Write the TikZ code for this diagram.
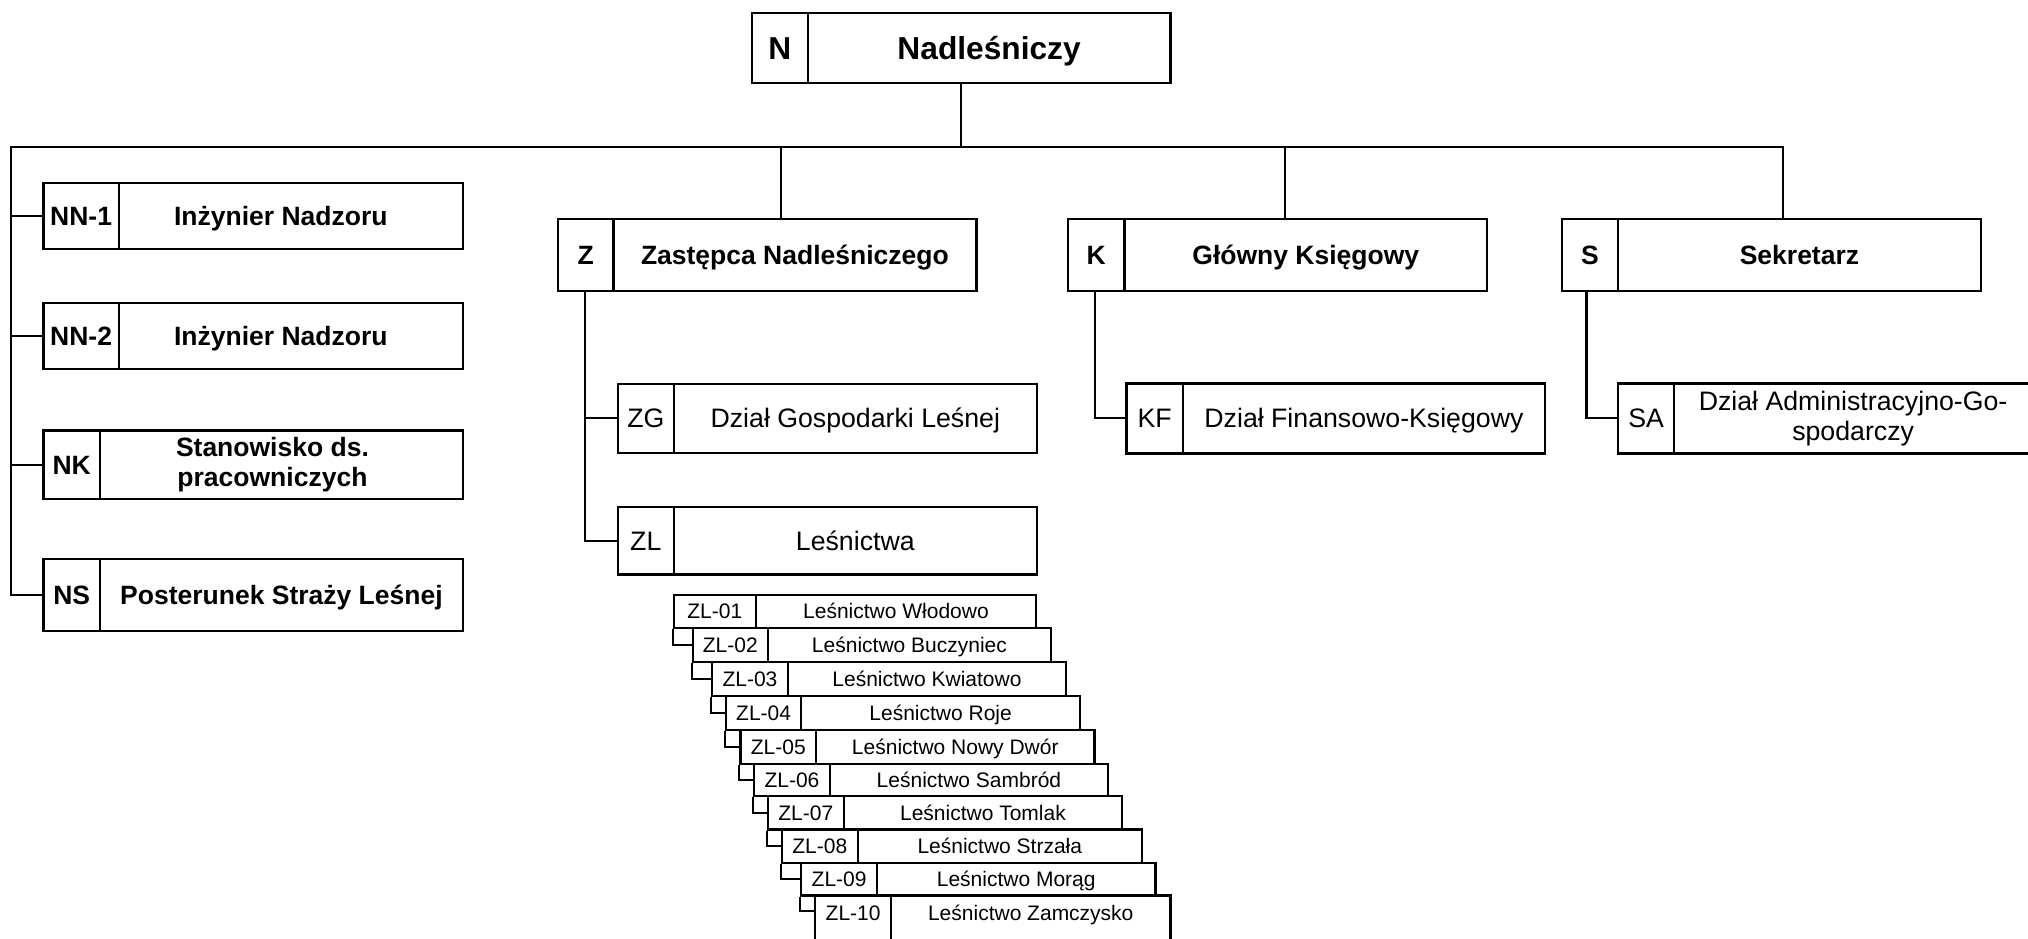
\documentclass[tikz,border=0pt]{standalone}
\usepackage{fontspec}
\setmainfont{Liberation Sans}
\usetikzlibrary{calc}
\tikzset{
  cell/.style={draw, line width=2.2pt, inner sep=0pt, anchor=north west},
  multi/.style={align=center, text height={}, text depth={}},
  big/.style={font=\fontsize{31.7}{36}\selectfont\bfseries, text height=22.7pt, text depth=0pt},
  bold/.style={font=\fontsize{26.5}{30}\selectfont\bfseries, text height=19pt, text depth=0pt},
  reg/.style={font=\fontsize{26.7}{30}\selectfont, text height=19.1pt, text depth=0pt},
  small/.style={font=\fontsize{21}{24}\selectfont, text height=15pt, text depth=0pt},
  conn/.style={line width=2.1pt},
}
% #1 id, #2 left, #3 divider, #4 right, #5 top, #6 bottom, #7 style, #8 code, #9 name
\newcommand\orgbox[9]{%
  \pgfmathsetmacro\obCW{#3-#2}%
  \pgfmathsetmacro\obNW{#4-#3}%
  \pgfmathsetmacro\obBH{#6-#5}%
  \node[cell,#7,minimum width=\obCW pt,minimum height=\obBH pt] (#1c) at (#2,#5) {#8};
  \node[cell,#7,minimum width=\obNW pt,minimum height=\obBH pt] (#1n) at (#3,#5) {#9};
}
\begin{document}
\begin{tikzpicture}[x=1pt,y=-1pt]
\useasboundingbox (0,0) rectangle (2028,939);
\clip (0,0) rectangle (2028,939);
\fill[white] (0,0) rectangle (2028,939);

% top
\orgbox{N}{750.7}{806.7}{1169.3}{11.7}{81.7}{big}{N}{Nadleśniczy}

% left column
\orgbox{NN1}{42.3}{117.7}{461.7}{181.5}{247.7}{bold}{NN-1}{\hspace*{-20pt}Inżynier Nadzoru}
\orgbox{NN2}{42.3}{117.7}{461.7}{301.7}{368}{bold}{NN-2}{\hspace*{-20pt}Inżynier Nadzoru}
\orgbox{NK}{42.3}{99}{461.7}{429.3}{497.7}{bold}{NK}{}
\node[bold,multi] (NKt) at ($(NKn.center)+(-9,0)$) {Stanowisko ds.\\pracowniczych};
\orgbox{NS}{42.3}{99}{461.7}{557.5}{629.5}{bold}{NS}{Posterunek Straży Leśnej}

% second level
\orgbox{Z}{556.7}{612.3}{975.3}{217.7}{290}{bold}{Z}{Zastępca Nadleśniczego}
\orgbox{K}{1066.7}{1123.3}{1486}{217.7}{290}{bold}{K}{Główny Księgowy}
\orgbox{S}{1560.7}{1617}{1979.7}{217.7}{290}{bold}{S}{Sekretarz}

% third level
\orgbox{ZG}{616.7}{672.7}{1035.7}{382.7}{451.7}{reg}{ZG}{Dział Gospodarki Leśnej}
\orgbox{ZL}{616.7}{672.7}{1035.7}{506}{573.3}{reg}{ZL}{Leśnictwa}
\orgbox{KF}{1125.3}{1181.7}{1544}{382.3}{452.3}{reg}{KF}{Dział Finansowo-Księgowy}
\orgbox{SA}{1617}{1673}{2031}{382.3}{452.3}{reg}{SA}{}
\node[reg,multi] (SAt) at (SAn.center) {Dział Administracyjno-Go-\\spodarczy};

% forest districts
\orgbox{ZLa}{672.7}{754.7}{1035}{594}{626.7}{small}{ZL-01}{Leśnictwo Włodowo}
\orgbox{ZLb}{691.7}{766.7}{1050}{626.7}{661}{small}{ZL-02}{Leśnictwo Buczyniec}
\orgbox{ZLc}{711}{786.7}{1065}{661}{695}{small}{ZL-03}{Leśnictwo Kwiatowo}
\orgbox{ZLd}{725}{800}{1079}{695}{729}{small}{ZL-04}{Leśnictwo Roje}
\orgbox{ZLe}{739.3}{815}{1093.3}{729}{762.7}{small}{ZL-05}{Leśnictwo Nowy Dwór}
\orgbox{ZLf}{752.7}{829}{1106.7}{762.7}{795}{small}{ZL-06}{Leśnictwo Sambród}
\orgbox{ZLg}{766.7}{842.7}{1121}{795}{828.3}{small}{ZL-07}{Leśnictwo Tomlak}
\orgbox{ZLh}{780.7}{856.7}{1140.7}{828.3}{861.7}{small}{ZL-08}{Leśnictwo Strzała}
\orgbox{ZLi}{800}{876}{1154.3}{861.7}{894.3}{small}{ZL-09}{Leśnictwo Morąg}
\node[cell,small,minimum width=76pt,minimum height=66pt] (ZLjc) at (814,894.3) {};
\node[cell,small,minimum width=279.3pt,minimum height=66pt] (ZLjn) at (890,894.3) {};
\node[small,anchor=base] (ZLjct) at ($(ZLjc.north)+(0,26.5)$) {ZL-10};
\node[small,anchor=base] (ZLjnt) at ($(ZLjn.north)+(0,26.5)$) {Leśnictwo Zamczysko};

% connectors
\coordinate (busL) at (11,147.3);
\coordinate (busR) at (1783.3,147.3);
\coordinate (dZ) at (780.7,147.3);
\coordinate (dK) at (1285.3,147.3);
\coordinate (Nbot) at ($(Nc.south west)!0.5!(Nn.south east)$);
\coordinate (zv) at ([xshift=-1pt]Zc.south);
\coordinate (kv) at ([xshift=-1.5pt]Kc.south);
\coordinate (sv) at ([xshift=-3.5pt]Sc.south);
\coordinate (zlj) at ($(ZLjc.north west)+(0,16.7)$);
\draw[conn] (Nbot) -- (Nbot |- busL);
\draw[conn] (NSc.west) -| (busL) -- (busR) -- (busR |- Sn.north);
\draw[conn] (NN1c.west) -- (NN1c.west -| busL);
\draw[conn] (NN2c.west) -- (NN2c.west -| busL);
\draw[conn] (NKc.west) -- (NKc.west -| busL);
\draw[conn] (dZ) -- (dZ |- Zn.north);
\draw[conn] (dK) -- (dK |- Kn.north);

\draw[conn] (zv) |- (ZLc.west);
\draw[conn] (ZGc.west) -- (ZGc.west -| zv);
\draw[conn] (kv) |- (KFc.west);
\draw[conn] (sv) |- (SAc.west);

\draw[conn] (ZLac.south west) |- (ZLbc.west);
\draw[conn] (ZLbc.south west) |- (ZLcc.west);
\draw[conn] (ZLcc.south west) |- (ZLdc.west);
\draw[conn] (ZLdc.south west) |- (ZLec.west);
\draw[conn] (ZLec.south west) |- (ZLfc.west);
\draw[conn] (ZLfc.south west) |- (ZLgc.west);
\draw[conn] (ZLgc.south west) |- (ZLhc.west);
\draw[conn] (ZLhc.south west) |- (ZLic.west);
\draw[conn] (ZLic.south west) |- (zlj);
\end{tikzpicture}
\end{document}
